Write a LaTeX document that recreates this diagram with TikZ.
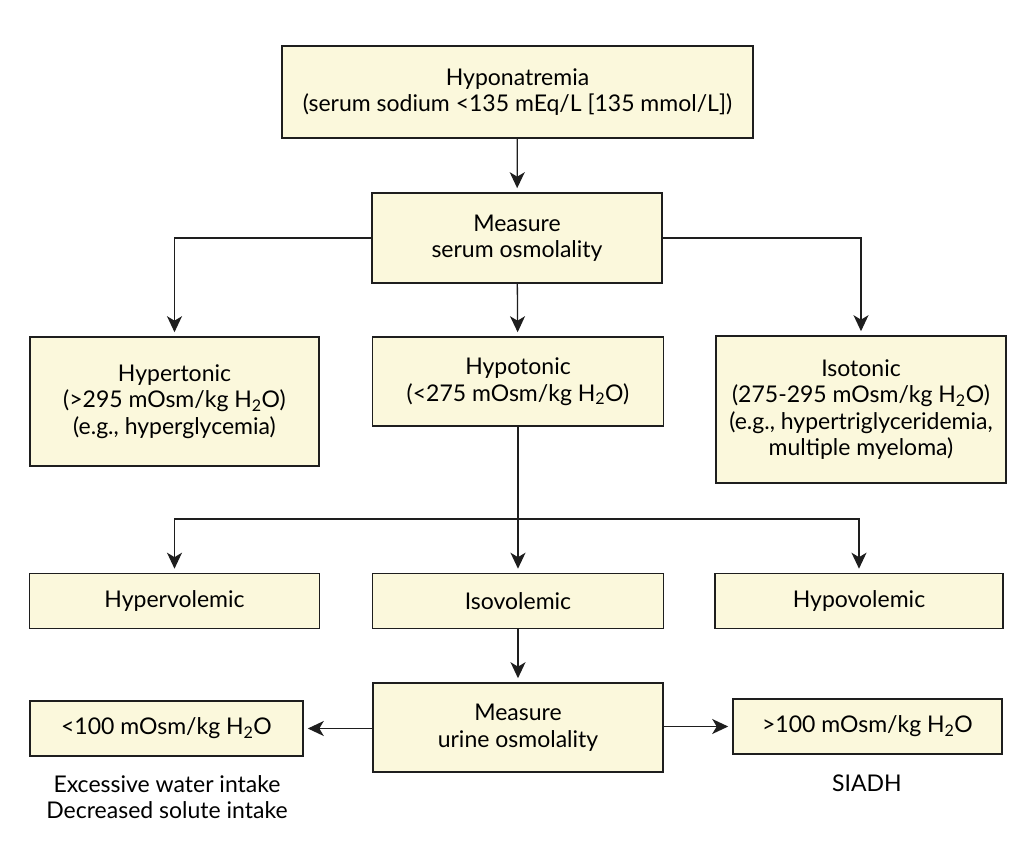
\documentclass[tikz,border=0pt]{standalone}
\usepackage{fontspec}
\setmainfont{Lato}
\usetikzlibrary{arrows.meta}
\definecolor{boxfill}{RGB}{251,248,220}
\definecolor{linecol}{RGB}{30,30,30}
\begin{document}
\begin{tikzpicture}[x=1pt,y=-1pt,
  box/.style={draw=linecol, line width=1.6pt, fill=boxfill, inner sep=0pt, align=center,
    font=\fontsize{23}{26.5}\selectfont},
  plain/.style={inner sep=0pt, align=center, font=\fontsize{23}{26.5}\selectfont},
  conn/.style={draw=linecol, line width=1.3pt},
  arr/.style={conn, -{Stealth[length=16pt,width=15pt,inset=4.5pt]}, shorten >=4pt}]
\useasboundingbox[fill=white] (0,0) rectangle (1028,848);
\node[box, minimum width=471pt, minimum height=92pt] (top) at (517.5,92) {Hyponatremia\\(serum sodium <135 mEq/L [135 mmol/L])};
\node[box, minimum width=290pt, minimum height=90pt] (serum) at (517,238) {Measure\\serum osmolality};
\node[box, minimum width=289pt, minimum height=129pt] (hyper) at (174.5,401.5) {Hypertonic\\(>295 mOsm/kg H\textsubscript{2}O)\\(e.g., hyperglycemia)};
\node[box, minimum width=291pt, minimum height=89pt] (hypo) at (518,381.5) {Hypotonic\\(<275 mOsm/kg H\textsubscript{2}O)};
\node[box, minimum width=290pt, minimum height=147pt] (iso) at (861,409.5) {Isotonic\\(275-295 mOsm/kg H\textsubscript{2}O)\\(e.g., hypertriglyceridemia,\\multiple myeloma)};
\node[box, minimum width=290pt, minimum height=55pt] (hyperv) at (174.5,601) {Hypervolemic};
\node[box, minimum width=291pt, minimum height=55pt] (isov) at (518,601) {Isovolemic};
\node[box, minimum width=288pt, minimum height=55pt] (hypov) at (859,601) {Hypovolemic};
\node[box, minimum width=290pt, minimum height=89pt] (urine) at (518,727.5) {Measure\\urine osmolality};
\node[box, minimum width=273pt, minimum height=55pt] (low) at (166.5,728.5) {<100 mOsm/kg H\textsubscript{2}O};
\node[box, minimum width=269pt, minimum height=55pt] (high) at (867.5,726.5) {>100 mOsm/kg H\textsubscript{2}O};
\node[plain] (lowtxt) at (167,797) {Excessive water intake\\Decreased solute intake};
\node[plain] (hightxt) at (867,783) {SIADH};
\coordinate (br) at (518,519);
\draw[arr] (top) -- (serum);
\draw[arr] (serum.west) -| (hyper.north);
\draw[arr] (serum.east) -| (iso.north);
\draw[arr] (serum) -- (hypo);
\draw[arr] (hypo.south) -- (isov.north);
\draw[arr] (br) -| (hyperv.north);
\draw[arr] (br) -| (hypov.north);
\draw[arr] (isov) -- (urine);
\draw[arr] (urine.west |- low.east) -- (low.east);
\draw[arr] (urine.east |- high.west) -- (high.west);
\end{tikzpicture}
\end{document}
